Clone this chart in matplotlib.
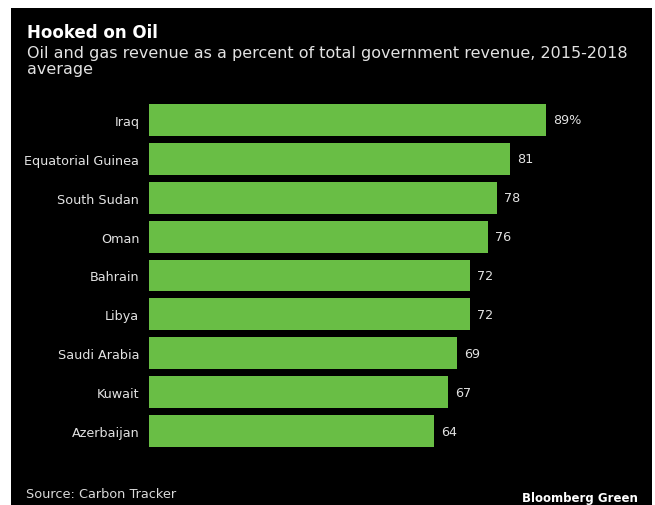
import matplotlib
matplotlib.use("Agg")
import matplotlib.pyplot as plt
from matplotlib.patches import Rectangle

countries = ["Iraq", "Equatorial Guinea", "South Sudan", "Oman", "Bahrain",
             "Libya", "Saudi Arabia", "Kuwait", "Azerbaijan"]
share = [89, 81, 78, 76, 72, 72, 69, 67, 64]
value_labels = ["89%", "81", "78", "76", "72", "72", "69", "67", "64"]

plt.rcParams["font.family"] = ["DejaVu Sans"]

W, H = 655, 506
fig = plt.figure(figsize=(W / 100, H / 100), dpi=100)
fig.patch.set_facecolor("white")

# black card behind everything
bg = fig.add_axes([11 / W, 0, 641 / W, 1 - 9 / H], zorder=-1)
bg.add_patch(Rectangle((0, 0), 1, 1, transform=bg.transAxes,
                       facecolor="black", edgecolor="none"))
bg.axis("off")

ax = fig.add_axes([149 / W, 1 - 451.5 / H, 446 / W, 350 / H])
ax.set_facecolor("none")
ypos = list(range(len(countries)))
ax.barh(ypos, share, height=0.82, color="#69be45")
ax.set_xlim(0, 100)
ax.set_ylim(len(countries) - 0.5, -0.5)

for y, v, lab in zip(ypos, share, value_labels):
    ax.annotate(lab, (v, y), xytext=(5, 0), textcoords="offset points",
                va="center", ha="left", color="#e2e2e2", fontsize=9.2)

ax.set_yticks(ypos)
ax.set_yticklabels(countries, color="#e2e2e2", fontsize=9.2)
ax.tick_params(axis="y", length=0, pad=7)
ax.set_xticks([])
for s in ax.spines.values():
    s.set_visible(False)

fig.text(27 / W, 1 - 38 / H, "Hooked on Oil", color="white", fontsize=12,
         fontweight="bold", va="baseline", ha="left")
fig.text(27 / W, 1 - 58 / H,
         "Oil and gas revenue as a percent of total government revenue, 2015-2018",
         color="#e2e2e2", fontsize=11.5, va="baseline", ha="left")
fig.text(27 / W, 1 - 74 / H, "average", color="#e2e2e2", fontsize=11.5,
         va="baseline", ha="left")
fig.text(26 / W, 1 - 498 / H, "Source: Carbon Tracker", color="#d9d9d9",
         fontsize=9.3, va="baseline", ha="left")
fig.text(638 / W, 1 - 502 / H, "Bloomberg Green", color="white", fontsize=8.5,
         fontweight="bold", va="baseline", ha="right")

fig.savefig("out.png", dpi=100, facecolor=fig.get_facecolor())
